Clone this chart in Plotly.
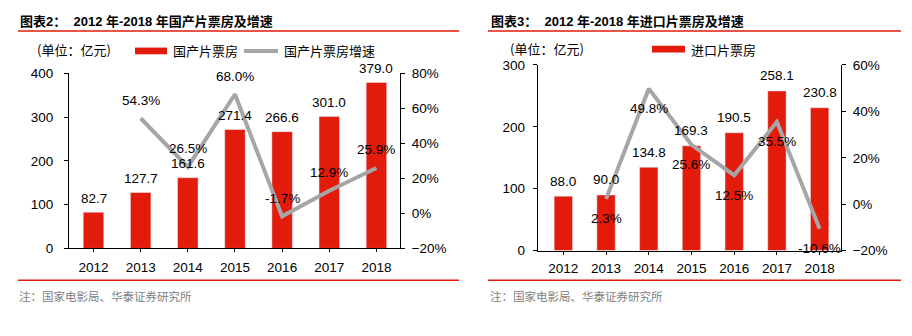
import plotly.graph_objects as go

# ---------------- data ----------------
years = ["2012", "2013", "2014", "2015", "2016", "2017", "2018"]
domestic_box = [82.7, 127.7, 161.6, 271.4, 266.6, 301.0, 379.0]
domestic_growth = [None, 54.3, 26.5, 68.0, -1.7, 12.9, 25.9]
import_box = [88.0, 90.0, 134.8, 169.3, 190.5, 258.1, 230.8]
import_growth = [None, 2.3, 49.8, 25.6, 12.5, 35.5, -10.6]

left_title = "图表2：\u00a0\u00a02012 年-2018 年国产片票房及增速"
right_title = "图表3：\u00a0\u00a02012 年-2018 年进口片票房及增速"
unit_label = "(单位：亿元)"
dom_bar_name = "国产片票房"
dom_line_name = "国产片票房增速"
imp_bar_name = "进口片票房"
source_note = "注：国家电影局、华泰证券研究所"

# ---------------- style ----------------
W, H = 912, 336
RED = "#E31B0A"
GRAY = "#A6A6A6"
LATIN = "Liberation Sans, Arial, Noto Sans CJK SC"
CJK = "Noto Sans CJK SC, Liberation Sans"


def px(x):
    return x / W


def py(y):
    return 1 - y / H


fig = go.Figure()

fig.add_trace(go.Bar(x=years, y=domestic_box, marker_color=RED, width=0.435,
                     xaxis="x", yaxis="y", showlegend=False))
fig.add_trace(go.Scatter(x=years, y=domestic_growth, mode="lines",
                         line=dict(color=GRAY, width=4), xaxis="x", yaxis="y2",
                         showlegend=False, connectgaps=False))
fig.add_trace(go.Bar(x=years, y=import_box, marker_color=RED, width=0.43,
                     xaxis="x2", yaxis="y3", showlegend=False))
fig.add_trace(go.Scatter(x=years, y=import_growth, mode="lines",
                         line=dict(color=GRAY, width=4), xaxis="x2", yaxis="y4",
                         showlegend=False, connectgaps=False))

annotations = []
tfont = dict(family=LATIN, size=13.5, color="black")
for i, v in enumerate(domestic_box):
    annotations.append(dict(x=i, y=v, xref="x", yref="y", text=f"{v:.1f}",
                            showarrow=False, yshift=14, font=tfont))
for i, v in enumerate(domestic_growth):
    if v is not None:
        annotations.append(dict(x=i, y=v, xref="x", yref="y2", text=f"{v:.1f}%",
                                showarrow=False, yshift=18, font=tfont))
for i, v in enumerate(import_box):
    annotations.append(dict(x=i, y=v, xref="x2", yref="y3", text=f"{v:.1f}",
                            showarrow=False, yshift=15, font=tfont))
for i, v in enumerate(import_growth):
    if v is not None:
        annotations.append(dict(x=i, y=v, xref="x2", yref="y4", text=f"{v:.1f}%",
                                showarrow=False, yshift=-20, font=tfont))

# titles
for xx, t in [(18, left_title), (489, right_title)]:
    annotations.append(dict(x=px(xx), y=py(15), xref="paper", yref="paper",
                            xanchor="left", yanchor="middle", showarrow=False,
                            text=f"<b>{t}</b>",
                            font=dict(family=LATIN, size=13, color="black")))
# legends / unit labels
lfont = dict(family=CJK, size=13, color="black")
for xx, yy, t in [(35, 45, unit_label), (171, 46, dom_bar_name), (282, 46, dom_line_name),
                  (508, 43.5, unit_label), (689, 44, imp_bar_name)]:
    annotations.append(dict(x=px(xx), y=py(yy), xref="paper", yref="paper",
                            xanchor="left", yanchor="middle", showarrow=False,
                            text=t, font=lfont))
# footers
for xx in [17, 488]:
    annotations.append(dict(x=px(xx), y=py(302), xref="paper", yref="paper",
                            xanchor="left", yanchor="middle", showarrow=False,
                            text=source_note,
                            font=dict(family=CJK, size=11.5, color="#808080")))

shapes = []
for x0, x1 in [(18, 459), (488, 901)]:
    for yy in [25, 286]:
        shapes.append(dict(type="line", xref="paper", yref="paper",
                           x0=px(x0), x1=px(x1), y0=py(yy), y1=py(yy),
                           line=dict(color=RED, width=1.5)))
shapes.append(dict(type="rect", xref="paper", yref="paper", x0=px(135), x1=px(167),
                   y0=py(49.5), y1=py(42.5), fillcolor=RED, line=dict(width=0)))
shapes.append(dict(type="line", xref="paper", yref="paper", x0=px(244), x1=px(278),
                   y0=py(46), y1=py(46), line=dict(color=GRAY, width=4)))
shapes.append(dict(type="rect", xref="paper", yref="paper", x0=px(652), x1=px(685),
                   y0=py(47.5), y1=py(40.5), fillcolor=RED, line=dict(width=0)))

axis_common = dict(showline=True, linecolor="black", linewidth=1, ticks="outside",
                   ticklen=4, tickcolor="black", showgrid=False, zeroline=False,
                   tickfont=dict(family=LATIN, size=13.5, color="black"), fixedrange=True)

fig.update_layout(
    width=W, height=H, margin=dict(l=0, r=0, t=0, b=0),
    paper_bgcolor="white", plot_bgcolor="white", showlegend=False,
    bargap=0.5,
    xaxis=dict(domain=[px(69), px(400)], anchor="y", type="category",
               range=[-0.52, 6.5], ticklabelstandoff=3, **{**axis_common, "ticklen": 3}),
    yaxis=dict(domain=[py(252.7), py(69.3)], anchor="x", range=[0, 400], dtick=100,
               ticklabelstandoff=8, **axis_common),
    yaxis2=dict(overlaying="y", side="right", anchor="x", range=[-20, 80], dtick=20,
                ticksuffix="%", ticklabelstandoff=4, **axis_common),
    xaxis2=dict(domain=[px(537.7), px(841)], anchor="y3", type="category",
                range=[-0.6, 6.5], ticklabelstandoff=2, **{**axis_common, "ticklen": 3}),
    yaxis3=dict(domain=[py(255), py(60.7)], anchor="x2", range=[0, 300], dtick=100,
                ticklabelstandoff=5, **axis_common),
    yaxis4=dict(overlaying="y3", side="right", anchor="x2", range=[-20, 60], dtick=20,
                ticksuffix="%", ticklabelstandoff=4, **axis_common),
    annotations=annotations, shapes=shapes,
)

fig.write_html("out.html")
